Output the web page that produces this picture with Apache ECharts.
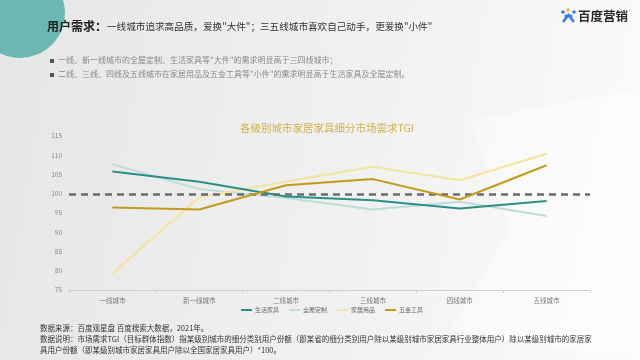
<!DOCTYPE html>
<html><head><meta charset="utf-8">
<script src="https://cdn.jsdelivr.net/npm/echarts@6/dist/echarts.min.js"></script>
<style>html,body{margin:0;padding:0;}#c{width:640px;height:360px;}</style>
</head><body><div id="c"></div>
<script>
const categories = ['一线城市','新一线城市','二线城市','三线城市','四线城市','五线城市'];
const seriesNames = ['生活家具','全屋定制','家居用品','五金工具'];
const livingFurniture = [105.8, 103.1, 99.3, 98.3, 96.2, 98.1];
const wholeHouse = [107.7, 101.2, 98.9, 95.9, 97.9, 94.2];
const homeGoods = [79.3, 99.1, 103.2, 107.0, 103.5, 110.4];
const hardwareTools = [96.4, 95.9, 102.2, 103.8, 98.5, 107.4];
const yTicks = {min: 75, max: 115, interval: 5};
const baseline = 100;
const headline = '一线城市追求高品质，爱换"大件"；三五线城市喜欢自己动手，更爱换"小件"';
const bullets = ['一线、新一线城市的全屋定制、生活家具等"大件"的需求明显高于三四线城市；','二线、三线、四线及五线城市在家居用品及五金工具等"小件"的需求明显高于生活家具及全屋定制。'];
const footer = ['数据来源：百度观星盘 百度搜索大数据，2021年。','数据说明：市场需求TGI（目标群体指数）指某级别城市的细分类别用户份额（即某省的细分类别用户除以某级别城市家居家具行业整体用户）除以某级别城市的家居家','具用户份额（即某级别城市家居家具用户除以全国家居家具用户）*100。'];

const colors = ['#2b8f88','#bcdedb','#f6e49e','#c29b1c'];
const FONT = '"Noto Sans CJK SC","Noto Sans",sans-serif';
const chart = echarts.init(document.getElementById('c'));
const data = [livingFurniture, wholeHouse, homeGoods, hardwareTools];
const series = seriesNames.map((n,i)=>({
  name:n, type:'line', data:data[i], symbol:'none', smooth:false,
  lineStyle:{width:2, color:colors[i]}, itemStyle:{color:colors[i]}, z: i===3?5:(i===0?4:3),
  markLine: i===0 ? {silent:true, symbol:'none', label:{show:false},
    lineStyle:{type:[7,5], color:'#6b6b70', width:2.5}, data:[{yAxis: baseline}]} : undefined
}));
chart.setOption({
  backgroundColor: new echarts.graphic.LinearGradient(0,0,1,0.3,[{offset:0,color:'#e6e6e6'},{offset:0.6,color:'#f1f1f1'},{offset:1,color:'#fafafa'}]),
  textStyle:{fontFamily:FONT},
  title:{text:'各级别城市家居家具细分市场需求TGI', left:322, textAlign:'center', top:118,
    textStyle:{color:'#d2b04a', fontSize:10.5, fontWeight:'normal', fontFamily:FONT}},
  legend:{data:seriesNames, bottom:42, left:236, icon:'rect', itemWidth:11, itemHeight:2, itemGap:10,
    textStyle:{fontSize:6, color:'#666', padding:[0,0,0,-2]}},
  grid:{left:69, right:50, top:136, bottom:70},
  xAxis:{type:'category', data:categories, boundaryGap:true,
    axisLine:{lineStyle:{color:'#cfcfcf'}}, axisTick:{show:true, lineStyle:{color:'#cfcfcf'}, length:3},
    axisLabel:{fontSize:6.5, color:'#777', margin:7}},
  yAxis:{type:'value', min:yTicks.min, max:yTicks.max, interval:yTicks.interval,
    axisLine:{show:false}, axisTick:{show:false}, splitLine:{show:false},
    axisLabel:{fontSize:6.5, color:'#888', margin:7}},
  series: series,
  graphic:[
    {type:'polygon', silent:true, z:-10, shape:{points:[[470,120],[640,90],[640,360],[450,330],[510,230]]}, style:{fill:'rgba(255,255,255,0.45)'}},
    {type:'circle', silent:true, z:-5, shape:{cx:20, cy:13, r:45}, style:{fill:'#6cb7b2'}},
    {type:'text', left:47, top:20, style:{rich:{b:{fontSize:12, fontWeight:'bold', fill:'#222', fontFamily:FONT}, n:{fontSize:9.6, fill:'#333', fontFamily:FONT}}, text:'{b|用户需求：}{n|'+headline+'}'}},
    {type:'rect', shape:{x:50, y:59, width:4, height:4}, style:{fill:'#555'}},
    {type:'rect', shape:{x:50, y:73, width:4, height:4}, style:{fill:'#555'}},
    {type:'text', left:58, top:56, style:{text:bullets[0], fontSize:8, fill:'#888', fontFamily:FONT}},
    {type:'text', left:58, top:70, style:{text:bullets[1], fontSize:8, fill:'#888', fontFamily:FONT}},
    {type:'text', left:40, top:324, style:{text:footer[0], fontSize:7.5, fill:'#333', fontFamily:FONT}},
    {type:'text', left:40, top:335, style:{text:footer[1], fontSize:7.5, fill:'#333', fontFamily:FONT}},
    {type:'text', left:40, top:346, style:{text:footer[2], fontSize:7.5, fill:'#333', fontFamily:FONT}},
    {type:'circle', shape:{cx:563, cy:12, r:1.8}, style:{fill:'#2f7bea'}},
    {type:'circle', shape:{cx:568, cy:10, r:1.8}, style:{fill:'#f4b62e'}},
    {type:'circle', shape:{cx:574, cy:12, r:1.8}, style:{fill:'#2f7bea'}},
    {type:'circle', shape:{cx:566, cy:16, r:1.6}, style:{fill:'#2f7bea'}},
    {type:'circle', shape:{cx:571, cy:16, r:1.6}, style:{fill:'#2f7bea'}},
    {type:'polyline', shape:{points:[[563,22],[568.5,15],[574,22]]}, style:{stroke:'#2f7bea', lineWidth:2.5, fill:null}},
    {type:'text', left:578, top:10, style:{text:'百度营销', fontSize:12.5, fontWeight:'bold', fill:'#2a2a2a', fontFamily:FONT}}
  ]
});
</script></body></html>
